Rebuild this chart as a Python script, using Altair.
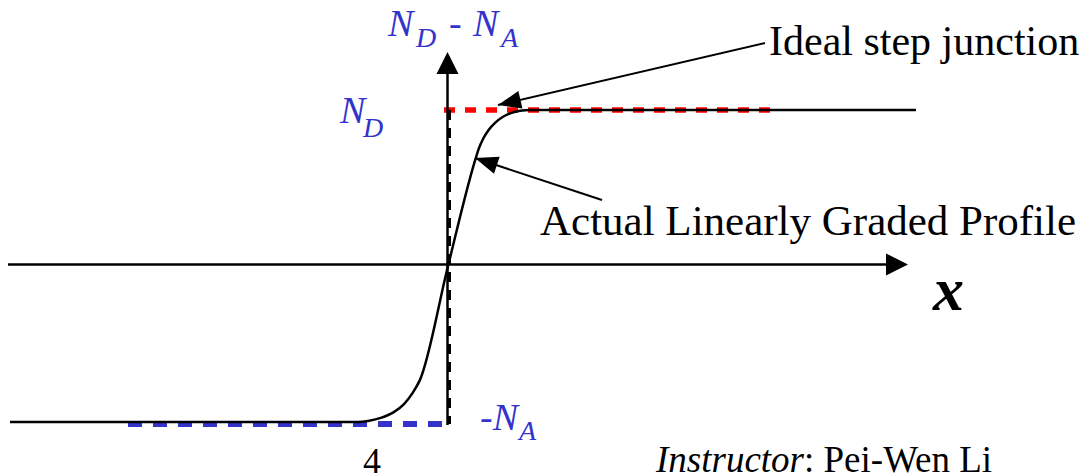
import math
import altair as alt
import pandas as pd

# ---------------- layout (pixel geometry of the page) ----------------
W, H = 1071, 467
MARGIN = 8
X0_PX, Y0_PX = 448, 266          # where (0,0) of the diagram sits on the page
PX_PER_X, PX_PER_Y = 100.0, 156.0
x_domain = [(MARGIN - X0_PX) / PX_PER_X, (MARGIN + W - X0_PX) / PX_PER_X]
y_domain = [(Y0_PX - (MARGIN + H)) / PX_PER_Y, (Y0_PX - MARGIN) / PX_PER_Y]

# ---------------- data ----------------
N_D = 1.0
N_A = 1.0
NA_DASH = -1.013

# actual linearly graded profile
curve_x = [-4.38, -0.90, -0.80, -0.68, -0.55, -0.44, -0.35, -0.28, 0.0,
           0.27, 0.307, 0.353, 0.408, 0.473, 0.546, 0.628, 0.72, 0.82, 4.68]
curve_y = [-1.0, -1.0, -0.993, -0.975, -0.94, -0.885, -0.81, -0.73, 0.0,
           0.675, 0.751, 0.817, 0.873, 0.919, 0.955, 0.980, 0.995, 1.0, 1.0]

# ideal step junction dashes
red_x = [-0.04, 3.22]
blue_x = [-3.20, 0.05]
step_x = 0.015

# axes
xaxis_x = [-4.43, 4.45]
xaxis_y = 0.01
xaxis_tip = 4.60
yaxis_x = -0.005
yaxis_y = [-1.02, 1.30]
yaxis_tip = 1.372

# annotation arrows: tail -> tip
ann_tail_x = [3.17, 1.54]
ann_tail_y = [1.429, 0.423]
ann_tip_x = [0.50, 0.27]
ann_tip_y = [1.032, 0.692]

# text labels
blue_labels = ["N", "D", "-", "N", "A", "N", "D", "-N", "A"]
blue_lx = [-0.60, -0.32, 0.01, 0.25, 0.53, -1.08, -0.85, 0.32, 0.71]
blue_ly = [1.472, 1.401, 1.472, 1.472, 1.401, 0.917, 0.827, -1.051, -1.115]
blue_size = [38, 28, 38, 38, 28, 38, 28, 38, 28]

plain_labels = ["Ideal step junction", "Actual Linearly Graded Profile", "4", ": Pei-Wen Li"]
plain_lx = [3.21, 0.92, -0.85, 3.56]
plain_ly = [1.3526, 0.1987, -1.327, -1.32]
plain_size = [42, 43, 36, 37]

ital_labels = ["Instructor"]
ital_lx = [2.08]
ital_ly = [-1.32]
ital_size = [37]

bold_labels = ["x"]
bold_lx = [4.85]
bold_ly = [-0.282]
bold_size = [62]

BLUE = "#3333CC"
RED = "#FF0000"
FONT = "Liberation Serif"


def X(f="x"):
    return alt.X(f"{f}:Q", scale=alt.Scale(domain=x_domain, nice=False, zero=False), axis=None)


def Y(f="y"):
    return alt.Y(f"{f}:Q", scale=alt.Scale(domain=y_domain, nice=False, zero=False), axis=None)


def rules(df, **kw):
    return alt.Chart(df).mark_rule(**kw).encode(x=X("x"), x2="x2:Q", y=Y("y"), y2="y2:Q")


# dashed ideal step
red_df = pd.DataFrame({"x": [red_x[0]], "x2": [red_x[1]], "y": [N_D], "y2": [N_D]})
blue_df = pd.DataFrame({"x": [blue_x[0]], "x2": [blue_x[1]], "y": [NA_DASH], "y2": [NA_DASH]})
step_df = pd.DataFrame({"x": [step_x], "x2": [step_x], "y": [N_D], "y2": [NA_DASH]})

red_layer = rules(red_df, color=RED, strokeWidth=5.5, strokeDash=[11, 10])
blue_layer = rules(blue_df, color=BLUE, strokeWidth=6, strokeDash=[14, 11])
step_layer = rules(step_df, color="black", strokeWidth=3, strokeDash=[10, 8])

# axes
axes_df = pd.DataFrame({
    "x": [xaxis_x[0], yaxis_x], "x2": [xaxis_x[1], yaxis_x],
    "y": [xaxis_y, yaxis_y[0]], "y2": [xaxis_y, yaxis_y[1]],
})
axes_layer = rules(axes_df, color="black", strokeWidth=2.5)

axis_heads = pd.DataFrame({"x": [xaxis_tip, yaxis_x], "y": [xaxis_y, yaxis_tip], "angle": [0, 270]})
axis_head_layer = alt.Chart(axis_heads).mark_point(
    shape="M0,0L-2.2,-1.1L-2.2,1.1Z", filled=True, fill="black", stroke=None, size=400, opacity=1
).encode(x=X("x"), y=Y("y"), angle=alt.Angle("angle:Q", scale=None))

# curve
curve_df = pd.DataFrame({"x": curve_x, "y": curve_y})
curve_layer = alt.Chart(curve_df).mark_line(
    color="black", strokeWidth=2.5, interpolate="monotone"
).encode(x=X("x"), y=Y("y"))

# annotation arrows
ann_df = pd.DataFrame({"x": ann_tail_x, "x2": ann_tip_x, "y": ann_tail_y, "y2": ann_tip_y})
ann_layer = rules(ann_df, color="black", strokeWidth=2)
angles = []
for tx, ty, hx, hy in zip(ann_tail_x, ann_tail_y, ann_tip_x, ann_tip_y):
    sx_ = (hx - tx) * PX_PER_X
    sy_ = -(hy - ty) * PX_PER_Y
    angles.append(math.degrees(math.atan2(sy_, sx_)) % 360)
ann_heads = pd.DataFrame({"x": ann_tip_x, "y": ann_tip_y, "angle": angles})
ann_head_layer = alt.Chart(ann_heads).mark_point(
    shape="M0,0L-2.3,-0.9L-2.3,0.9Z", filled=True, fill="black", stroke=None, size=400, opacity=1
).encode(x=X("x"), y=Y("y"), angle=alt.Angle("angle:Q", scale=None))


def texts(labels, lx, ly, sizes, color, style="normal", weight="normal"):
    df = pd.DataFrame({"x": lx, "y": ly, "t": labels, "s": sizes})
    return alt.Chart(df).mark_text(
        align="left", baseline="alphabetic", font=FONT, fontStyle=style,
        fontWeight=weight, color=color
    ).encode(x=X("x"), y=Y("y"), text="t:N", size=alt.Size("s:Q", scale=None))


blue_text = texts(blue_labels, blue_lx, blue_ly, blue_size, BLUE, style="italic")
plain_text = texts(plain_labels, plain_lx, plain_ly, plain_size, "black")
ital_text = texts(ital_labels, ital_lx, ital_ly, ital_size, "black", style="italic")
bold_text = texts(bold_labels, bold_lx, bold_ly, bold_size, "black", style="italic", weight="bold")

chart = alt.layer(
    red_layer, blue_layer, axes_layer, step_layer, curve_layer,
    ann_layer, ann_head_layer, axis_head_layer,
    blue_text, plain_text, ital_text, bold_text,
).properties(
    width=W, height=H, padding=0,
    autosize=alt.AutoSizeParams(type="none"),
).configure_view(stroke=None)

chart.save("out.html", embed_options={"renderer": "svg", "actions": False})
